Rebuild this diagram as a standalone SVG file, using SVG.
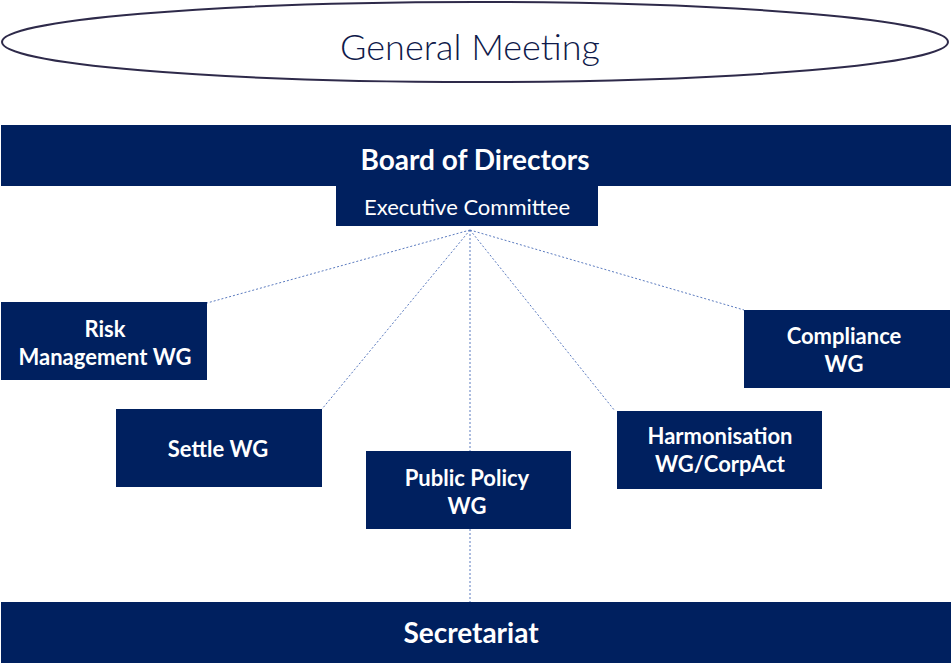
<svg xmlns="http://www.w3.org/2000/svg" width="951" height="668" viewBox="0 0 951 668">
<style>
.box{fill:#00205f}
.t{font-family:Lato,"Open Sans","Liberation Sans",sans-serif;fill:#fff;text-anchor:middle;dominant-baseline:central}
.b{font-weight:bold;font-size:22px}
.big{font-weight:bold;font-size:28px}
.c{stroke:#5b7bbf;stroke-width:1;stroke-dasharray:2 2;fill:none}
</style>
<rect width="951" height="668" fill="#fff"/>
<g id="connectors">
<line class="c" x1="470" y1="230" x2="207" y2="303"/>
<line class="c" x1="470" y1="230" x2="322" y2="409"/>
<line class="c" x1="470" y1="230" x2="470" y2="451"/>
<line class="c" x1="470" y1="230" x2="615" y2="411"/>
<line class="c" x1="470" y1="230" x2="744" y2="310"/>
<line class="c" x1="470" y1="529" x2="470" y2="602"/>
</g>
<g id="general-meeting">
<ellipse cx="475" cy="42" rx="473" ry="40" fill="#fff" stroke="#2e2a4a" stroke-width="2"/>
<text class="t" x="470" y="46" style="fill:#0f1a4a;font-size:36px;font-weight:300">General Meeting</text>
</g>
<g id="board">
<rect class="box" x="1" y="125" width="950" height="61"/>
<text class="t big" x="475" y="159">Board of Directors</text>
</g>
<g id="exec">
<rect class="box" x="336" y="185" width="262" height="41"/>
<text class="t" x="467" y="206" style="font-size:22px">Executive Committee</text>
</g>
<g id="risk">
<rect class="box" x="1" y="302" width="206" height="78"/>
<text class="t b" x="105" y="328">Risk</text>
<text class="t b" x="105" y="356">Management WG</text>
</g>
<g id="settle">
<rect class="box" x="116" y="409" width="206" height="78"/>
<text class="t b" x="218" y="448">Settle WG</text>
</g>
<g id="public-policy">
<rect class="box" x="366" y="451" width="205" height="78"/>
<text class="t b" x="467" y="477">Public Policy</text>
<text class="t b" x="467" y="505">WG</text>
</g>
<g id="harmonisation">
<rect class="box" x="617" y="411" width="205" height="78"/>
<text class="t b" x="720" y="435">Harmonisation</text>
<text class="t b" x="720" y="463">WG/CorpAct</text>
</g>
<g id="compliance">
<rect class="box" x="744" y="310" width="206" height="78"/>
<text class="t b" x="844" y="335">Compliance</text>
<text class="t b" x="844" y="363">WG</text>
</g>
<g id="secretariat">
<rect class="box" x="1" y="602" width="950" height="61"/>
<text class="t big" x="471" y="632">Secretariat</text>
</g>
</svg>
